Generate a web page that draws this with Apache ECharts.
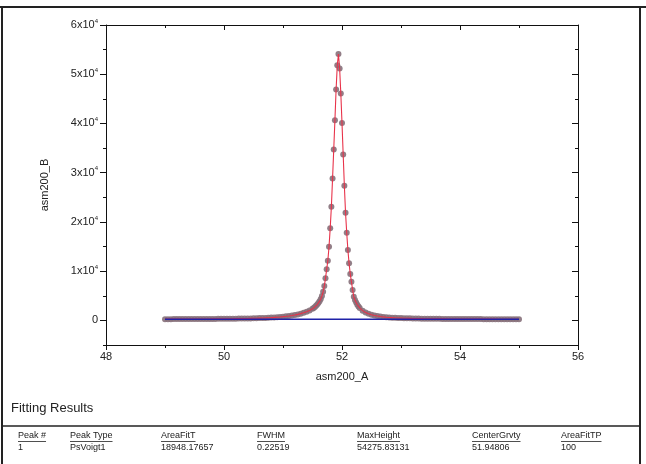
<!DOCTYPE html>
<html>
<head>
<meta charset="utf-8">
<script src="https://cdn.jsdelivr.net/npm/echarts@6.0.0/dist/echarts.min.js"></script>
<style>
  html, body { margin: 0; padding: 0; background: #fff; }
  #fitChart { width: 646px; height: 464px; }
</style>
</head>
<body>
<div id="fitChart"></div>
<script>
// measured points (asm200_A, asm200_B)
var peakX = [
  49.00,49.05,49.10,49.15,49.20,49.25,49.30,49.35,49.40,49.45,
  49.50,49.55,49.60,49.65,49.70,49.75,49.80,49.85,49.90,49.95,
  50.00,50.05,50.10,50.15,50.20,50.25,50.30,50.35,50.40,50.45,
  50.50,50.55,50.60,50.65,50.70,50.75,50.80,50.85,50.90,50.95,
  51.00,51.05,51.10,51.15,51.20,51.25,51.30,51.35,51.40,51.45,
  51.50,51.52,51.54,51.56,51.58,51.60,51.62,51.64,51.66,51.68,
  51.70,51.72,51.74,51.76,51.78,51.80,51.82,51.84,51.86,51.88,
  51.90,51.92,51.94,51.96,51.98,52.00,52.02,52.04,52.06,52.08,
  52.10,52.12,52.14,52.16,52.18,52.20,52.22,52.24,52.26,52.28,
  52.30,52.35,52.40,52.45,52.50,52.55,52.60,52.65,52.70,52.75,
  52.80,52.85,52.90,52.95,53.00,53.05,53.10,53.15,53.20,53.25,
  53.30,53.35,53.40,53.45,53.50,53.55,53.60,53.65,53.70,53.75,
  53.80,53.85,53.90,53.95,54.00,54.05,54.10,54.15,54.20,54.25,
  54.30,54.35,54.40,54.45,54.50,54.55,54.60,54.65,54.70,54.75,
  54.80,54.85,54.90,54.95,55.00
];
var peakY = [
  250,252,255,257,260,262,265,268,270,273,
  276,280,283,287,290,295,300,305,310,315,
  322,328,335,342,350,360,370,382,395,408,
  424,440,460,482,508,537,570,608,652,703,
  760,830,905,995,1100,1220,1370,1550,1760,2020,
  2350,2520,2720,2950,3220,3530,3900,4350,4950,5820,
  6980,8540,10370,12110,14950,18690,23070,28830,34700,40660,
  46900,51800,54100,51150,46080,40110,33700,27330,21850,17790,
  14280,11590,9410,7850,6170,4810,4150,3620,3180,2830,
  2540,1980,1600,1330,1140,990,875,785,710,650,
  600,560,525,495,470,448,428,410,395,381,
  368,357,347,338,330,322,315,309,303,298,
  293,288,284,280,276,273,270,267,264,261,
  259,256,254,252,250,248,246,244,243,241,
  240,238,237,235,234
];
// baseline of the fit
var baseX = [49, 55];
var baseY = [230, 230];

var yMajorTicks = [0, 10000, 20000, 30000, 40000, 50000, 60000];

// fitting results table
var resultHeaders = ['Peak #', 'Peak Type', 'AreaFitT', 'FWHM', 'MaxHeight', 'CenterGrvty', 'AreaFitTP'];
var resultRow = ['1', 'PsVoigt1', '18948.17657', '0.22519', '54275.83131', '51.94806', '100'];

var FONT = '"Liberation Sans", Arial, sans-serif';
var INK = '#222';

function yLabel(v) {
  if (v % 10000 !== 0) return '';
  if (v === 0) return '0';
  return '{b|' + (v / 10000) + 'x10}{s|4}';
}

var pts = peakX.map(function (x, i) { return [x, peakY[i]]; });
var base = baseX.map(function (x, i) { return [x, baseY[i]]; });

// table graphics
var measure = document.createElement('canvas').getContext('2d');
var colX = [18, 70, 161, 257, 357, 472, 561];
var tableEls = [];
resultHeaders.forEach(function (h, i) {
  tableEls.push({
    type: 'text', left: colX[i], top: 431,
    style: { text: h, font: '9px ' + FONT, fill: INK }
  });
  measure.font = '9px ' + FONT;
  var w = measure.measureText(h).width;
  tableEls.push({
    type: 'line',
    shape: { x1: colX[i], y1: 441.5, x2: colX[i] + w, y2: 441.5 },
    style: { stroke: INK, lineWidth: 0.8 }
  });
  tableEls.push({
    type: 'text', left: colX[i], top: 443,
    style: { text: resultRow[i], font: '9px ' + FONT, fill: INK }
  });
});

var axisLine = { show: true, onZero: false, lineStyle: { color: '#111', width: 1 } };

var option = {
  animation: false,
  backgroundColor: '#fff',
  grid: { left: 106, right: 68, top: 25, bottom: 119 },
  xAxis: [
    {
      type: 'value', position: 'bottom', min: 48, max: 56, interval: 2,
      axisLine: axisLine,
      axisTick: { show: true, length: 5, lineStyle: { color: '#111' } },
      minorTick: { show: true, splitNumber: 2, length: 3, lineStyle: { color: '#111' } },
      axisLabel: { margin: 6, color: INK, fontSize: 11, fontFamily: FONT },
      splitLine: { show: false },
      name: 'asm200_A', nameLocation: 'middle', nameGap: 26,
      nameTextStyle: { color: INK, fontSize: 11, fontFamily: FONT }
    },
    {
      type: 'value', position: 'top', min: 48, max: 56, interval: 2,
      axisLine: axisLine,
      axisTick: { show: true, inside: true, length: 5, lineStyle: { color: '#111' } },
      minorTick: { show: true, splitNumber: 2, length: 3, lineStyle: { color: '#111' } },
      axisLabel: { show: false },
      splitLine: { show: false }
    }
  ],
  yAxis: [
    {
      type: 'value', position: 'left', min: -5000, max: 60000, interval: 5000,
      axisLine: axisLine,
      axisTick: { show: true, length: 3, lineStyle: { color: '#111' } },
      axisLabel: {
        formatter: yLabel, margin: 8, color: INK, fontSize: 11, fontFamily: FONT,
        rich: {
          b: { fontSize: 11, fontFamily: FONT, color: INK, lineHeight: 14 },
          s: { fontSize: 6, fontFamily: FONT, color: INK, verticalAlign: 'top', lineHeight: 8 }
        }
      },
      splitLine: { show: false },
      name: 'asm200_B', nameLocation: 'middle', nameGap: 56, nameRotate: 90,
      nameTextStyle: { color: INK, fontSize: 11, fontFamily: FONT }
    },
    {
      type: 'value', position: 'left', min: -5000, max: 60000, interval: 5000,
      axisLine: { show: false, onZero: false },
      axisTick: { show: true, length: 6, customValues: yMajorTicks, lineStyle: { color: '#111' } },
      axisLabel: { show: false },
      splitLine: { show: false }
    },
    {
      type: 'value', position: 'right', min: -5000, max: 60000, interval: 5000,
      axisLine: axisLine,
      axisTick: { show: true, inside: true, length: 3, lineStyle: { color: '#111' } },
      axisLabel: { show: false },
      splitLine: { show: false }
    },
    {
      type: 'value', position: 'right', min: -5000, max: 60000, interval: 5000,
      axisLine: { show: false, onZero: false },
      axisTick: { show: true, inside: true, length: 6, customValues: yMajorTicks, lineStyle: { color: '#111' } },
      axisLabel: { show: false },
      splitLine: { show: false }
    }
  ],
  series: [
    {
      type: 'scatter', xAxisIndex: 0, yAxisIndex: 0, data: pts,
      symbol: 'circle', symbolSize: 6, z: 2,
      itemStyle: { color: '#86707a', opacity: 0.9 }
    },
    {
      type: 'line', xAxisIndex: 0, yAxisIndex: 0, data: pts,
      showSymbol: false, z: 3,
      lineStyle: { color: '#e8334a', width: 1.1 }
    },
    {
      type: 'line', xAxisIndex: 0, yAxisIndex: 0, data: base,
      showSymbol: false, z: 4,
      lineStyle: { color: '#1f22a8', width: 1.6 }
    }
  ],
  graphic: [
    { type: 'line', shape: { x1: 0, y1: 7, x2: 646, y2: 7 }, style: { stroke: INK, lineWidth: 2 } },
    { type: 'line', shape: { x1: 2, y1: 7, x2: 2, y2: 464 }, style: { stroke: INK, lineWidth: 2 } },
    { type: 'line', shape: { x1: 640, y1: 7, x2: 640, y2: 464 }, style: { stroke: INK, lineWidth: 2 } },
    { type: 'line', shape: { x1: 2, y1: 426, x2: 640, y2: 426 }, style: { stroke: INK, lineWidth: 1.5 } },
    {
      type: 'text', left: 11, top: 402,
      style: { text: 'Fitting Results', font: '13px ' + FONT, fill: INK }
    }
  ].concat(tableEls)
};

var fitChart = echarts.init(document.getElementById('fitChart'));
fitChart.setOption(option);
window.addEventListener('resize', function () { fitChart.resize(); });
</script>
</body>
</html>
